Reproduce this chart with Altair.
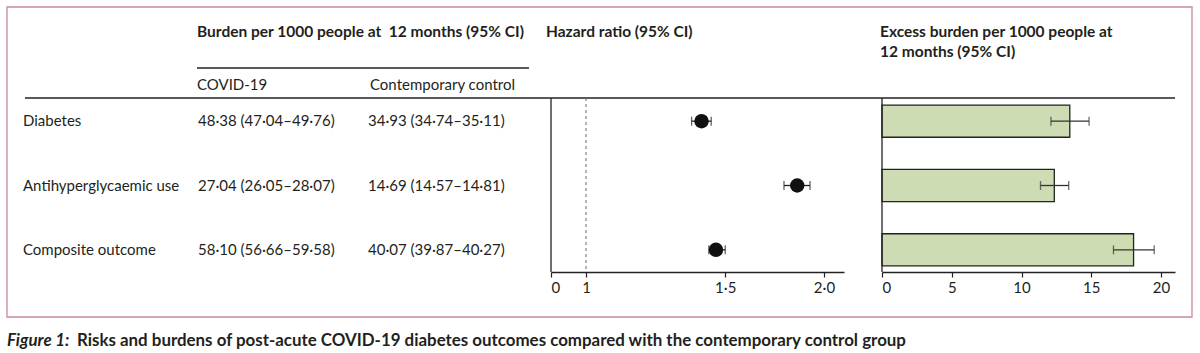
import altair as alt
import pandas as pd

# ---------------- data ----------------
outcomes = ["Diabetes", "Antihyperglycaemic use", "Composite outcome"]
covid_burden = ["48·38 (47·04–49·76)", "27·04 (26·05–28·07)", "58·10 (56·66–59·58)"]
control_burden = ["34·93 (34·74–35·11)", "14·69 (14·57–14·81)", "40·07 (39·87–40·27)"]
hr = [1.40, 1.85, 1.46]
hr_lo = [1.36, 1.78, 1.43]
hr_hi = [1.44, 1.92, 1.50]
excess = [13.46, 12.35, 18.03]
excess_lo = [12.11, 11.36, 16.59]
excess_hi = [14.84, 13.38, 19.51]
hr_ticks = [0.903, 1, 1.5, 2]
excess_ticks = [0, 5, 10, 15, 20]

df = pd.DataFrame({
    "outcome": outcomes, "covid": covid_burden, "control": control_burden,
    "hr": hr, "hr_lo": hr_lo, "hr_hi": hr_hi,
    "ex": excess, "ex_lo": excess_lo, "ex_hi": excess_hi,
})
one = pd.DataFrame({"a": [0]})

FONT = "Lato"
TXT = "#231f20"
W, H = 1200, 353

yscale = alt.Scale(domain=outcomes, range=[89, 282], paddingInner=0.5, paddingOuter=0.25)
Y = alt.Y("outcome:N", scale=yscale, axis=None)

hr_scale = alt.Scale(type="log", domain=[0.903, 2.12], range=[551, 844], nice=False, clamp=False)
ex_scale = alt.Scale(domain=[0, 21], range=[882, 1175], nice=False, zero=False)

axis_common = dict(orient="bottom", offset=272 - H, domainColor="#222", domainWidth=1.3,
                   tickColor="#222", tickSize=5, tickWidth=1.2, grid=False, labelFont=FONT,
                   labelFontSize=15, labelColor=TXT, labelPadding=3, title=None)

base = alt.Chart(df)

# border box
border = alt.Chart(one).mark_rect(fill=None, stroke="#c98a96", strokeWidth=1.3).encode(
    x=alt.value(7), x2=alt.value(1192), y=alt.value(7), y2=alt.value(317))

# horizontal rules
top_rule = alt.Chart(one).mark_rule(color="#222", strokeWidth=1.3).encode(
    x=alt.value(25), x2=alt.value(1175), y=alt.value(98))
head_rule = alt.Chart(one).mark_rule(color="#222", strokeWidth=1.3).encode(
    x=alt.value(197), x2=alt.value(529), y=alt.value(68))

def label(text, x, y, bold=False, size=15, italic=False, font=FONT):
    return alt.Chart(one).mark_text(
        text=text, align="left", baseline="middle", font=font, fontSize=size,
        fontWeight="bold" if bold else "normal", fontStyle="italic" if italic else "normal",
        color=TXT).encode(x=alt.value(x), y=alt.value(y))

headers = [
    label("Burden per 1000 people at\u00a0 12 months (95% CI)", 197, 32, bold=True, size=15.5),
    label("COVID-19", 197, 85),
    label("Contemporary control", 370, 85),
    label("Hazard ratio (95% CI)", 546, 32, bold=True, size=15.5),
    label("Excess burden per 1000 people at", 880, 32, bold=True, size=15.5),
    label("12 months (95% CI)", 880, 52, bold=True, size=15.5),
    label("Figure 1:", 7, 341, bold=True, italic=True, size=16.9),
    label("Risks and burdens of post-acute COVID-19 diabetes outcomes compared with the contemporary control group",
          77, 341, bold=True, size=16.9),
]

def col(field, x):
    return base.mark_text(align="left", baseline="middle", font=FONT, fontSize=15, color=TXT).encode(
        x=alt.value(x), y=Y, text=f"{field}:N")

table = [col("outcome", 23), col("covid", 198), col("control", 368)]

# hazard ratio panel
hr_axis = alt.Axis(values=hr_ticks, **axis_common,
                   labelExpr="datum.value < 0.95 ? '0' : datum.value == 1 ? '1' : replace(format(datum.value, '.1f'), '.', '·')")
hr_left = alt.Chart(one).mark_rule(color="#222", strokeWidth=1.3).encode(
    x=alt.value(551), y=alt.value(98), y2=alt.value(272))
hr_ref = alt.Chart(one).mark_rule(color="#666", strokeDash=[3, 3], strokeWidth=1).encode(
    x=alt.X("datum_one:Q", scale=hr_scale, axis=None), y=alt.value(98), y2=alt.value(272)
).transform_calculate(datum_one="1")
hr_err = base.mark_errorbar(ticks=alt.TickConfig(size=9, thickness=1.3), color="#222", thickness=1.3).encode(
    x=alt.X("hr_lo:Q", scale=hr_scale, axis=None), x2="hr_hi:Q", y=Y)
hr_pt = base.mark_point(filled=True, size=210, color="#111", opacity=1).encode(
    x=alt.X("hr:Q", scale=hr_scale, axis=hr_axis), y=Y)

# excess burden panel
ex_axis = alt.Axis(values=excess_ticks, format="d", **axis_common)
ex_left = alt.Chart(one).mark_rule(color="#222", strokeWidth=1.3).encode(
    x=alt.value(882), y=alt.value(98), y2=alt.value(272))
ex_bar = base.mark_bar(fill="#cddcb3", stroke="#222", strokeWidth=1.3).encode(
    x=alt.X("ex:Q", scale=ex_scale, axis=ex_axis), x2=alt.datum(0), y=Y)
ex_err = base.mark_errorbar(ticks=alt.TickConfig(size=9, thickness=1.3), color="#333", thickness=1.3).encode(
    x=alt.X("ex_lo:Q", scale=ex_scale, axis=None), x2="ex_hi:Q", y=Y)

chart = alt.layer(
    border, top_rule, head_rule, *headers, *table,
    hr_ref, hr_left, hr_err, hr_pt,
    ex_bar, ex_left, ex_err,
).resolve_scale(x="independent", y="shared").resolve_axis(x="independent").properties(
    width=W, height=H, padding=0, autosize=alt.AutoSizeParams(type="none"),
    background="white",
).configure_view(stroke=None)

chart.save("out.html", embed_options={"renderer": "svg", "actions": False})
